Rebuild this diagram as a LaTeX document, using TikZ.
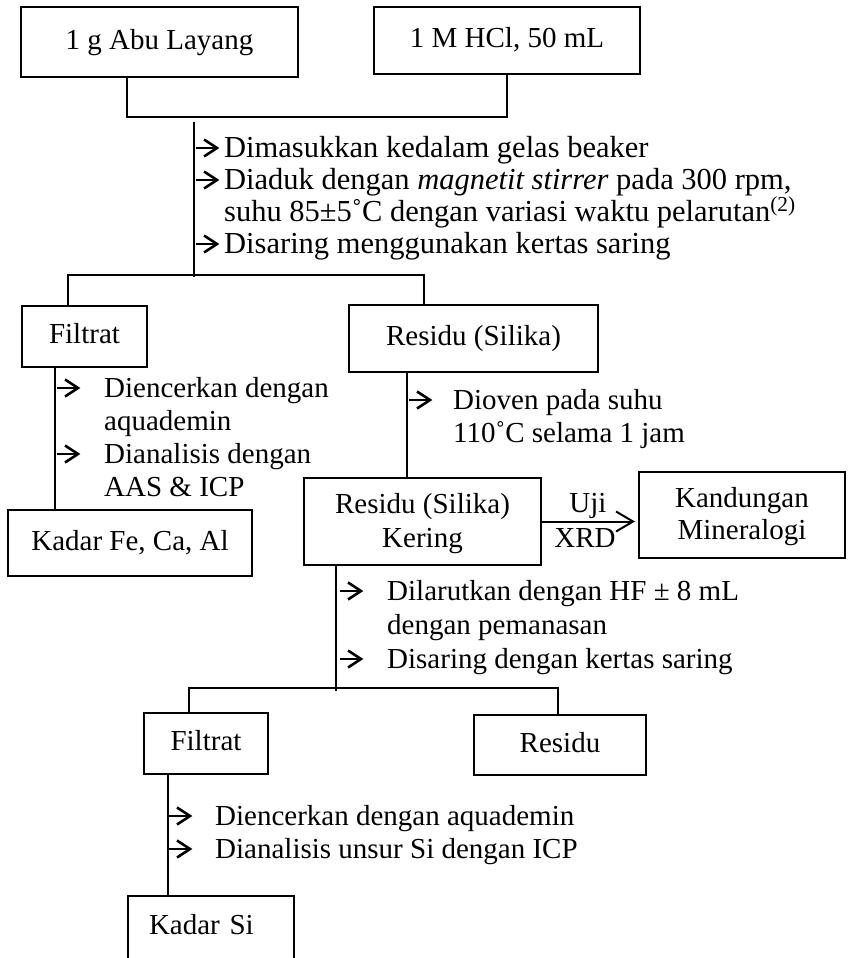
\documentclass[tikz,border=0pt]{standalone}
\usepackage{fontspec}
\setmainfont{Liberation Serif}
\usetikzlibrary{arrows.meta}
\begin{document}
\begin{tikzpicture}[x=1pt,y=-1pt,
  box/.style={draw, line width=2pt, inner sep=0pt, font=\fontsize{29}{33}\selectfont, align=center},
  one/.style={text height=20pt, text depth=6pt},
  txt/.style={anchor=base west, inner sep=0pt, font=\fontsize{29}{33}\selectfont},
  txtA/.style={anchor=base west, inner sep=0pt, font=\fontsize{30.5}{33}\selectfont},
  conn/.style={line width=1.6pt},
  garrow/.pic={
    \draw[line width=2.6pt] (0,0) -- (20.5,0);
    \draw[line width=2.6pt, line join=miter, miter limit=4] (8,-8.5) -- (21,0) -- (8,8.5);
  }
]
\useasboundingbox (0,0) rectangle (849,958);
\fill[white] (0,0) rectangle (849,958);

% boxes
\node[box, one, minimum width=277pt, minimum height=70pt] (abu) at (159.5,42) {1 g Abu Layang};
\node[box, one, minimum width=266pt, minimum height=67pt] (hcl) at (507,40.5) {1 M HCl, 50 mL};
\node[box, one, minimum width=125pt, minimum height=61pt] (filt1) at (84.5,336.5) {Filtrat};
\node[box, one, minimum width=249pt, minimum height=67pt] (res1) at (473.5,338.5) {Residu (Silika)};
\node[box, one, minimum width=244pt, minimum height=66pt] (kadar1) at (130,543) {Kadar Fe, Ca, Al};
\node[box, minimum width=237pt, minimum height=87pt, font=\fontsize{29}{34}\selectfont] (kering) at (422.5,521.5) {\rule{0pt}{24pt}Residu (Silika)\\Kering};
\node[box, minimum width=206pt, minimum height=86pt, font=\fontsize{29}{32}\selectfont] (kand) at (742,515) {\rule{0pt}{24pt}Kandungan\\Mineralogi};
\node[box, one, minimum width=124pt, minimum height=61pt] (filt2) at (206,743.5) {Filtrat};
\node[box, one, minimum width=172pt, minimum height=60pt] (res2) at (560,745) {Residu};
\node[box, anchor=north west, text width=124pt, align=left, text height=20pt, text depth=50pt, inner xsep=21pt, inner ysep=18pt] (kadarsi) at (127,895) {Kadar Si};

% connectors
\coordinate (m1l) at (127,117);
\coordinate (m1r) at (507,117);
\draw[conn] (abu.south -| m1l) -- (m1l) -- (m1r) -- (hcl.south -| m1r);
\coordinate (t1top) at (194,122);
\coordinate (t1bot) at (194,277);
\draw[conn] (t1top) -- (t1bot);
\coordinate (s1l) at (68,275);
\coordinate (s1r) at (424,275);
\draw[conn] (filt1.north -| s1l) -- (s1l) -- (s1r) -- (res1.north -| s1r);
\coordinate (v1) at (55,0);
\draw[conn] (filt1.south -| v1) -- (kadar1.north -| v1);
\coordinate (v2) at (407,0);
\draw[conn] (res1.south -| v2) -- (kering.north -| v2);
\draw[line width=2pt, -{Straight Barb[length=17pt,width=20pt]}, shorten >=3pt] (kering.east) -- (kering.east -| kand.west);
\node[txt, anchor=base] (uji) at (588,512) {Uji};
\node[txt, anchor=base] (xrd) at (585,547) {XRD};
\coordinate (v3) at (336,0);
\coordinate (t3bot) at (336,691);
\draw[conn] (kering.south -| v3) -- (t3bot);
\coordinate (s2l) at (189,688);
\coordinate (s2r) at (558,688);
\draw[conn] (filt2.north -| s2l) -- (s2l) -- (s2r) -- (res2.north -| s2r);
\coordinate (v4) at (168,0);
\draw[conn] (filt2.south -| v4) -- (kadarsi.north -| v4);

% block A
\pic at (196,148) {garrow};
\node[txtA] (a1) at (224,157) {Dimasukkan kedalam gelas beaker};
\pic at (196,180) {garrow};
\node[txtA] (a2) at (224,189) {Diaduk dengan \textit{magnetit stirrer} pada 300 rpm,};
\node[txtA] (a3) at (224,221) {suhu 85±5˚C dengan variasi waktu pelarutan\textsuperscript{(2)}};
\pic at (196,244) {garrow};
\node[txtA] (a4) at (224,253) {Disaring menggunakan kertas saring};

% block B
\pic at (57,388) {garrow};
\node[txt] (b1) at (104,397) {Diencerkan dengan};
\node[txt] (b2) at (104,430) {aquademin};
\pic at (57,454) {garrow};
\node[txt] (b3) at (104,463) {Dianalisis dengan};
\node[txt] (b4) at (104,496) {AAS \& ICP};

% block C
\pic at (409,400) {garrow};
\node[txt] (c1) at (453,409) {Dioven pada suhu};
\node[txt] (c2) at (453,442) {110˚C selama 1 jam};

% block D
\pic at (340,591) {garrow};
\node[txt] (d1) at (387,600) {Dilarutkan dengan HF ± 8 mL};
\node[txt] (d2) at (387,634) {dengan pemanasan};
\pic at (340,659) {garrow};
\node[txt] (d3) at (387,668) {Disaring dengan kertas saring};

% block E
\pic at (169,816) {garrow};
\node[txt] (e1) at (215,825) {Diencerkan dengan aquademin};
\pic at (169,849) {garrow};
\node[txt] (e2) at (215,858) {Dianalisis unsur Si dengan ICP};
\end{tikzpicture}
\end{document}
